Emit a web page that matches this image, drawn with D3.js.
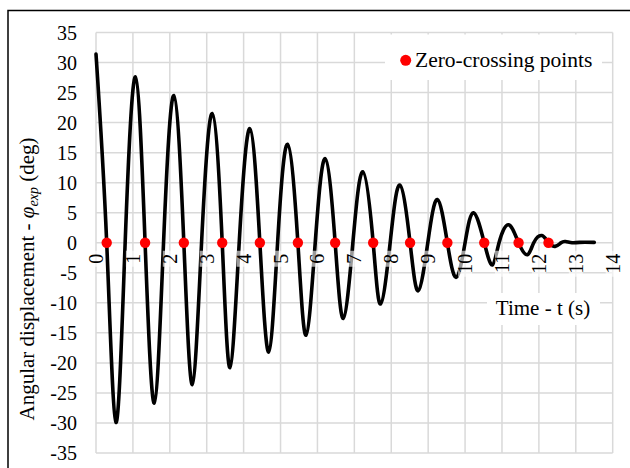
<!DOCTYPE html>
<html>
<head>
<meta charset="utf-8">
<script src="https://cdn.jsdelivr.net/npm/d3@7"></script>
<style>
  html, body { margin: 0; padding: 0; background: #fff; }
</style>
</head>
<body>
<svg id="chart" width="630" height="468"></svg>
<script>
// ---- data ----
const timeS = [0, 0.29, 0.54, 0.79, 1.07, 1.33, 1.58, 1.83, 2.11, 2.38, 2.61, 2.86, 3.15, 3.42, 3.63, 3.88,
  4.17, 4.44, 4.68, 4.92, 5.19, 5.47, 5.69, 5.94, 6.21, 6.48, 6.70, 6.96, 7.23, 7.51, 7.71, 7.97,
  8.23, 8.51, 8.73, 8.99, 9.25, 9.52, 9.76, 10.0, 10.23, 10.52, 10.74, 10.92, 11.18, 11.45, 11.69, 11.86,
  12.08, 12.26, 12.44, 12.6, 12.72, 12.9, 13.1, 13.5];
const angleDeg = [31.4, 0, -29.9, 0, 27.6, 0, -26.7, 0, 24.5, 0, -23.6, 0, 21.5, 0, -20.8, 0,
  19.0, 0, -18.2, 0, 16.4, 0, -15.4, 0, 14.0, 0, -12.6, 0, 11.8, 0, -10.2, 0,
  9.6, 0, -8.0, 0, 7.2, 0, -5.75, 0, 5.0, 0, -3.7, 0, 3.0, 0, -2.0, 0,
  1.2, 0, -0.6, 0, 0.2, 0, 0.06, 0.06];
const zeroCrossT = [0.29, 1.33, 2.38, 3.42, 4.44, 5.47, 6.48, 7.51, 8.51, 9.52, 10.52, 11.45, 12.26];
const xTicks = [0, 1, 2, 3, 4, 5, 6, 7, 8, 9, 10, 11, 12, 13, 14];
const yTicks = [-35, -30, -25, -20, -15, -10, -5, 0, 5, 10, 15, 20, 25, 30, 35];
const legendLabel = "Zero-crossing points";
const xTitle = "Time - t (s)";

// ---- drawing ----
const FONT = "'Liberation Serif', 'Times New Roman', serif";
const svg = d3.select("#chart");
const x = d3.scaleLinear().domain([0, 14]).range([96, 612.7]);
const y = d3.scaleLinear().domain([-35, 35]).range([453, 32.5]);

// outer frame (clipped by the picture on right & bottom)
svg.append("rect").attr("x", 8).attr("y", 10.5).attr("width", 700).attr("height", 600)
  .attr("fill", "none").attr("stroke", "#000").attr("stroke-width", 1.5);

// gridlines
const grid = svg.append("g").attr("stroke", "#d9d9d9").attr("stroke-width", 1.5);
grid.selectAll("line.v").data(xTicks).join("line").attr("class", "v")
  .attr("x1", d => x(d)).attr("x2", d => x(d)).attr("y1", y(35)).attr("y2", y(-35));
grid.selectAll("line.h").data(yTicks).join("line").attr("class", "h")
  .attr("x1", x(0)).attr("x2", x(14)).attr("y1", d => y(d)).attr("y2", d => y(d));

// legend & x-title white boxes (break the gridlines)
svg.append("rect").attr("x", 385).attr("y", 34.5).attr("width", 217).attr("height", 45.5).attr("fill", "#fff");
svg.append("rect").attr("x", 487).attr("y", 293).attr("width", 113).attr("height", 32).attr("fill", "#fff");

// curve
const pts = timeS.map((t, i) => [t, angleDeg[i]]);
const line = d3.line().x(d => x(d[0])).y(d => y(d[1])).curve(d3.curveNatural);
svg.append("path").datum(pts).attr("d", line)
  .attr("fill", "none").attr("stroke", "#000").attr("stroke-width", 3.6)
  .attr("stroke-linejoin", "round").attr("stroke-linecap", "round");

// zero-crossing dots
svg.selectAll("circle.zc").data(zeroCrossT).join("circle").attr("class", "zc")
  .attr("cx", d => x(d)).attr("cy", y(0)).attr("r", 5.2).attr("fill", "#ff0000");

// y axis tick labels
svg.append("g").selectAll("text").data(yTicks).join("text")
  .attr("x", 77).attr("y", d => y(d)).attr("dy", "0.35em")
  .attr("text-anchor", "end").style("font-family", FONT).style("font-size", "20px").attr("fill", "#000")
  .text(d => d);

// x axis tick labels (rotated, with translucent white backgrounds)
const xl = svg.append("g");
const xg = xl.selectAll("g").data(xTicks).join("g")
  .attr("transform", d => `translate(${x(d)},${y(0) + 11}) rotate(-90)`);
xg.append("rect")
  .attr("x", d => -(String(d).length * 10) - 3).attr("y", -7)
  .attr("width", d => String(d).length * 10 + 6).attr("height", 14)
  .attr("fill", "#fff").attr("fill-opacity", 0.6);
xg.append("text").attr("x", 0).attr("y", 0).attr("dy", "0.35em")
  .attr("text-anchor", "end").style("font-family", FONT).style("font-size", "20px").attr("fill", "#000")
  .text(d => d);

// x axis title
svg.append("text").attr("x", 543).attr("y", 315).attr("text-anchor", "middle")
  .style("font-family", FONT).style("font-size", "21px").attr("fill", "#000").text(xTitle);

// y axis title
const yt = svg.append("text").attr("transform", "translate(34,279) rotate(-90)")
  .attr("text-anchor", "middle").style("font-family", FONT).style("font-size", "21px").attr("fill", "#000");
yt.append("tspan").text("Angular displacement - ");
yt.append("tspan").style("font-style", "italic").text("φ");
yt.append("tspan").style("font-style", "italic").style("font-size", "14px").attr("dy", 4).text("exp");
yt.append("tspan").attr("dy", -4).text(" (deg)");

// legend
svg.append("circle").attr("cx", 405.7).attr("cy", 60.3).attr("r", 5.5).attr("fill", "#ff0000");
svg.append("text").attr("x", 415).attr("y", 67).style("font-family", FONT).style("font-size", "21.5px").attr("fill", "#000").text(legendLabel);
</script>
</body>
</html>
